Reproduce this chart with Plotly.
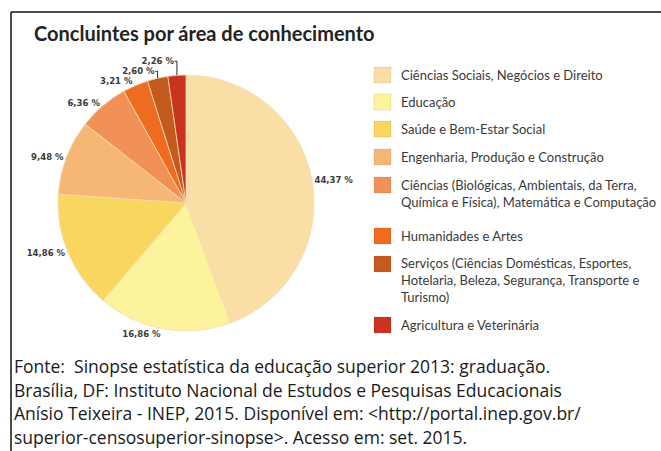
import plotly.graph_objects as go

# Concluintes por área de conhecimento (INEP 2013)
areas = ["Ciências Sociais, Negócios e Direito",
         "Educação",
         "Saúde e Bem-Estar Social",
         "Engenharia, Produção e Construção",
         "Ciências (Biológicas, Ambientais, da Terra,<br>Química e Física), Matemática e Computação",
         "Humanidades e Artes",
         "Serviços (Ciências Domésticas, Esportes,<br>Hotelaria, Beleza, Segurança, Transporte e<br>Turismo)",
         "Agricultura e Veterinária"]
percent = [44.37, 16.86, 14.86, 9.48, 6.36, 3.21, 2.60, 2.26]
colors = ["#FBDDA6", "#FDF39C", "#F9D65D", "#F6B676",
          "#F19158", "#EE6B20", "#C45B1E", "#C9331F"]

fonte = ["Fonte:  Sinopse estatística da educação superior 2013: graduação.",
         "Brasília, DF: Instituto Nacional de Estudos e Pesquisas Educacionais",
         "Anísio Teixeira - INEP, 2015. Disponível em: &lt;http://portal.inep.gov.br/",
         "superior-censosuperior-sinopse&gt;. Acesso em: set. 2015."]

W, H = 661, 451
narrow = "Lato, sans-serif"

fig = go.Figure()
fig.add_trace(go.Pie(
    labels=areas, values=percent, sort=False, direction="clockwise", rotation=0,
    marker=dict(colors=colors, line=dict(color="#F3DDB0", width=0.8)),
    texttemplate="%{value:.2f} %", textposition="outside",
    textfont=dict(family="DejaVu Sans, sans-serif", size=8.5, weight="bold", color="#3a3a3a"),
    showlegend=False, hoverinfo="label+value",
    domain=dict(x=[58 / W, 314 / W], y=[1 - 331 / H, 1 - 75 / H]),
))

# hand-made legend, spaced like the original
legend_y = [75, 102, 129, 157, 193, 236, 280, 325]
for name, col, yc in zip(areas, colors, legend_y):
    off = name.count("<br>") * 8
    fig.add_shape(type="rect", xref="paper", yref="paper",
                  x0=374 / W, x1=391 / W, y0=1 - (yc + 8 - off) / H, y1=1 - (yc - 8 - off) / H,
                  fillcolor=col, line=dict(color="rgba(0,0,0,0.08)", width=1))
    fig.add_annotation(x=399 / W, y=1 - yc / H, xref="paper", yref="paper",
                       text=name, showarrow=False, xanchor="left", yanchor="middle",
                       align="left", font=dict(family=narrow, size=13, color="#3a3a3a"))

fig.add_annotation(x=32 / W, y=1 - 33 / H, xref="paper", yref="paper",
                   text="Concluintes por área de conhecimento", showarrow=False,
                   xanchor="left", yanchor="middle",
                   font=dict(family=narrow, size=20, weight="bold", color="#222222"))
for i, line in enumerate(fonte):
    fig.add_annotation(x=12 / W, y=1 - (366 + i * 23.5) / H, xref="paper", yref="paper",
                       text=line, showarrow=False, xanchor="left", yanchor="middle",
                       font=dict(family="Open Sans, Noto Sans, sans-serif", size=17.5, color="#1a1a1a"))

# frame lines (top and left)
fig.add_shape(type="line", xref="paper", yref="paper", x0=11 / W, x1=1, y0=1 - 12 / H, y1=1 - 12 / H,
              line=dict(color="#111111", width=1.5))
fig.add_shape(type="line", xref="paper", yref="paper", x0=11 / W, x1=11 / W, y0=0, y1=1 - 12 / H,
              line=dict(color="#111111", width=1.5))

fig.update_layout(width=W, height=H, margin=dict(l=0, r=0, t=0, b=0),
                  paper_bgcolor="white", separators=", ")
fig.write_html("out.html", config={"displayModeBar": False},
               post_script="document.body.style.margin='0';")
